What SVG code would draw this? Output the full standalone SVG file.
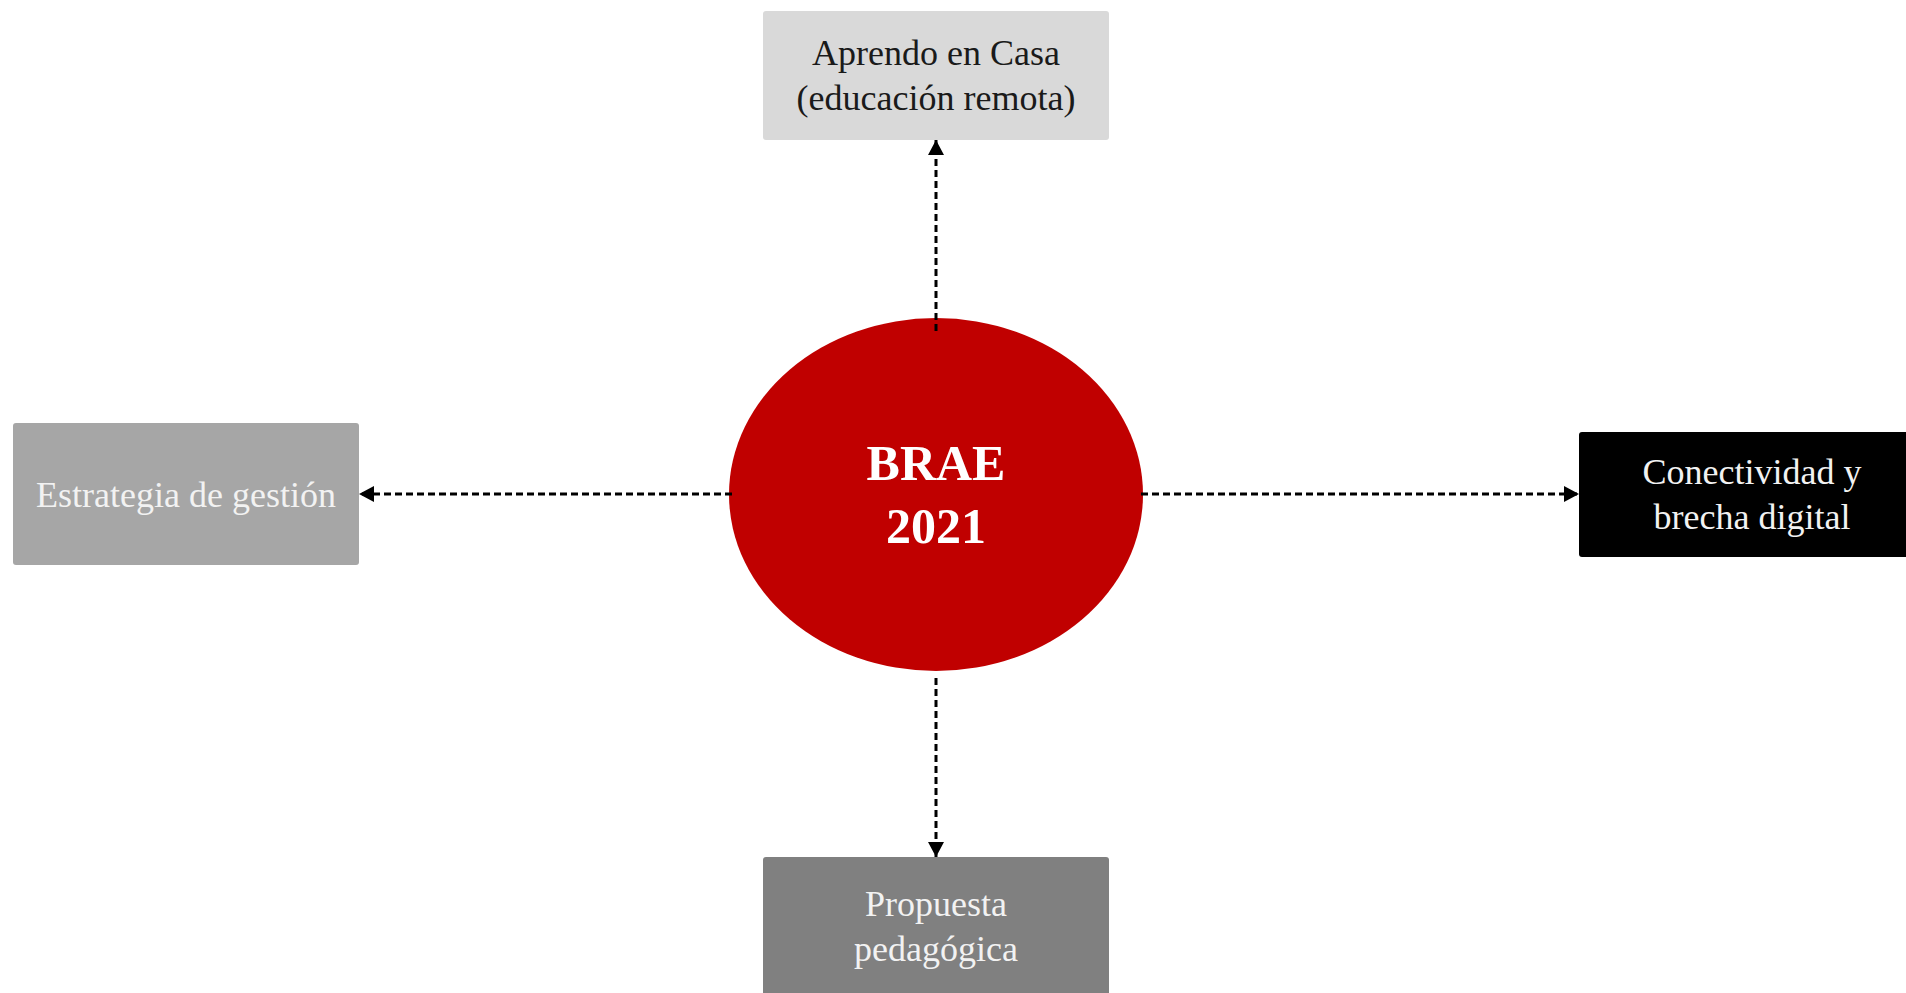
<svg xmlns="http://www.w3.org/2000/svg" width="1906" height="993" viewBox="0 0 1906 993">
<style>
.lbl{font-family:"Liberation Serif","Times New Roman",serif;font-size:36px;text-anchor:middle}
.dark{fill:#1a1a1a}
.light{fill:#f2f2f2}
.conn{stroke:#000;stroke-width:3;stroke-dasharray:7 4;fill:none}
.big{font-family:"Liberation Serif","Times New Roman",serif;font-size:50px;font-weight:bold;fill:#fff;text-anchor:middle}
</style>
<defs>
<marker id="arr" viewBox="0 0 15 16" refX="15" refY="8" markerWidth="15" markerHeight="16" markerUnits="userSpaceOnUse" orient="auto">
<path d="M0,0 L15,8 L0,16 Z" fill="#000"/>
</marker>
</defs>
<rect width="1906" height="993" fill="#fff"/>
<g id="node-top">
<rect x="763" y="11" width="346" height="129" rx="3" fill="#d9d9d9"/>
<text class="lbl dark" x="936" y="65">Aprendo en Casa</text>
<text class="lbl dark" x="936" y="110">(educación remota)</text>
</g>
<g id="node-left">
<rect x="13" y="423" width="346" height="142" rx="3" fill="#a6a6a6"/>
<text class="lbl light" x="186" y="507">Estrategia de gestión</text>
</g>
<g id="node-right">
<rect x="1579" y="432" width="340" height="125" rx="3" fill="#000"/>
<text class="lbl light" x="1752" y="484">Conectividad y</text>
<text class="lbl light" x="1752" y="529">brecha digital</text>
</g>
<g id="node-bottom">
<rect x="763" y="857" width="346" height="150" rx="3" fill="#808080"/>
<text class="lbl light" x="936" y="916">Propuesta</text>
<text class="lbl light" x="936" y="961">pedagógica</text>
</g>
<g id="node-center">
<ellipse cx="936" cy="494.5" rx="207" ry="176.5" fill="#c00000"/>
<text class="big" x="936" y="480">BRAE</text>
<text class="big" x="936" y="543">2021</text>
</g>
<g id="connectors">
<line class="conn" x1="936" y1="331" x2="936" y2="140" marker-end="url(#arr)"/>
<line class="conn" x1="936" y1="678" x2="936" y2="857" marker-end="url(#arr)"/>
<line class="conn" x1="732" y1="494" x2="359" y2="494" marker-end="url(#arr)"/>
<line class="conn" x1="1141" y1="494" x2="1579" y2="494" marker-end="url(#arr)"/>
</g>
</svg>
